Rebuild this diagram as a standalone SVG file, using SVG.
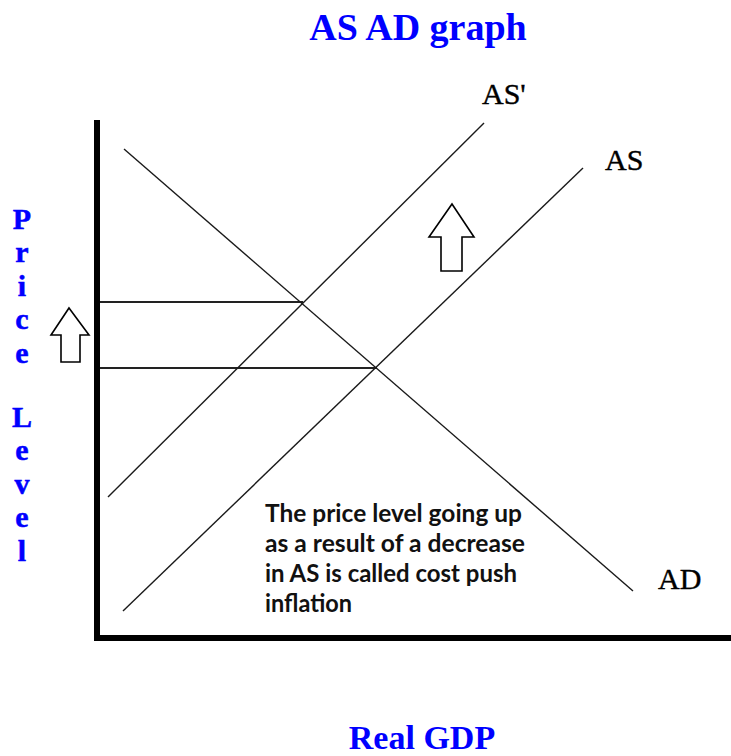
<svg xmlns="http://www.w3.org/2000/svg" width="731" height="756" viewBox="0 0 731 756">
<style>
.blue{fill:#0000ff;font-family:"Liberation Serif","Times New Roman",serif;font-weight:bold}
.lbl{fill:#000;font-family:"Liberation Serif","Times New Roman",serif;font-size:30px;stroke:#000;stroke-width:0.4}
.curve{stroke:#1a1a1a;stroke-width:1.4;fill:none}
.guide{stroke:#222;stroke-width:2;fill:none}
.axis{stroke:#000;stroke-width:6;fill:none}
.arrow{fill:#fff;stroke:#000;stroke-width:1.6;stroke-linejoin:miter}
.note{fill:#111;font-family:Lato,"Open Sans",sans-serif;font-weight:bold;font-size:24px}
</style>
<rect width="731" height="756" fill="#fff"/>
<g id="title"><text class="blue" x="418" y="40" font-size="38" text-anchor="middle">AS AD graph</text></g>
<g id="y-label" class="blue" font-size="30" text-anchor="middle" stroke="#0000ff" stroke-width="0.5">
<text x="22" y="229">P<tspan x="22" dy="33.4">r</tspan><tspan x="22" dy="33.4">i</tspan><tspan x="22" dy="33.4">c</tspan><tspan x="22" dy="33.4">e</tspan></text>
<text x="22" y="427">L<tspan x="22" dy="33.4">e</tspan><tspan x="22" dy="33.4">v</tspan><tspan x="22" dy="33.4">e</tspan><tspan x="22" dy="33.4">l</tspan></text>
</g>
<g id="x-label"><text class="blue" x="422" y="749" font-size="34" text-anchor="middle">Real GDP</text></g>
<g id="axes">
<line class="axis" x1="97" y1="120" x2="97" y2="641"/>
<line class="axis" x1="94" y1="638" x2="731" y2="638"/>
</g>
<g id="connectors">
<line class="guide" x1="100" y1="302" x2="303" y2="302"/>
<line class="guide" x1="100" y1="368" x2="377" y2="368"/>
</g>
<g id="AD"><line class="curve" x1="124" y1="149" x2="633" y2="591"/><text class="lbl" x="658" y="589">AD</text></g>
<g id="AS-prime"><line class="curve" x1="108" y1="497" x2="484" y2="123"/><text class="lbl" x="482" y="104">AS'</text></g>
<g id="AS"><line class="curve" x1="123" y1="611" x2="583" y2="168"/><text class="lbl" x="605" y="170">AS</text></g>
<g id="arrow-left"><polygon class="arrow" points="69,308 89,335 80,335 80,362 61,362 61,335 51,335"/></g>
<g id="arrow-right"><polygon class="arrow" points="452,204 474,237 462,237 462,271 441,271 441,237 429,237"/></g>
<g id="note" class="note">
<text x="265" y="522" textLength="257" lengthAdjust="spacingAndGlyphs">The price level going up</text>
<text x="265" y="552" textLength="260" lengthAdjust="spacingAndGlyphs">as a result of a decrease</text>
<text x="265" y="582" textLength="252" lengthAdjust="spacingAndGlyphs">in AS is called cost push</text>
<text x="265" y="612" textLength="87" lengthAdjust="spacingAndGlyphs">inflation</text>
</g>
</svg>
